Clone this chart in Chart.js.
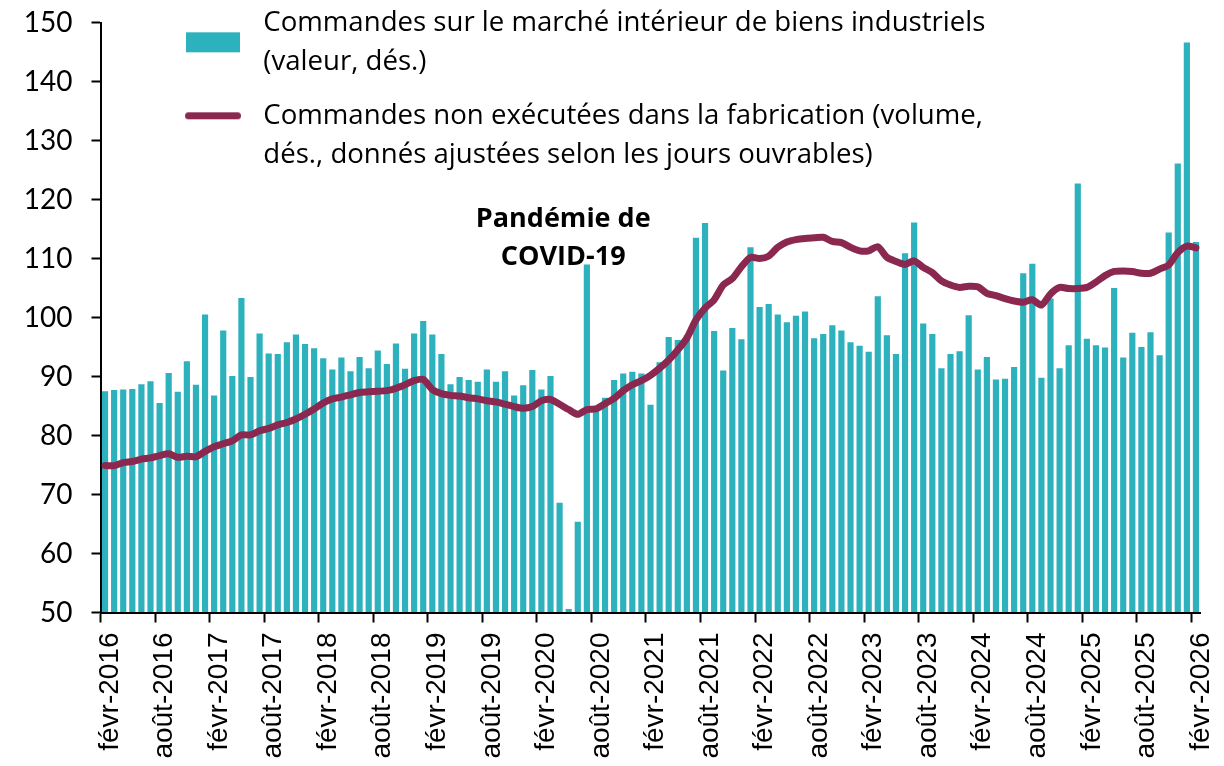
<!DOCTYPE html>
<html>
<head>
<meta charset="utf-8">
<script src="https://cdn.jsdelivr.net/npm/chart.js@4.4.1/dist/chart.umd.min.js"></script>
<style>
  html, body { margin: 0; padding: 0; background: #ffffff; }
  #wrap { width: 1224px; height: 766px; position: relative; }
</style>
</head>
<body>
<div id="wrap"><canvas id="c"></canvas></div>
<script>
// ---- categories ----
const MONTHS = ['janv', 'févr', 'mars', 'avr', 'mai', 'juin', 'juil', 'août', 'sept', 'oct', 'nov', 'déc'];
const START_MONTH = 1;      // févr
const START_YEAR = 2016;
const N_MONTHS = 121;       // févr-2016 .. févr-2026
const LABEL_EVERY = 6;

const CATEGORIES = [];
for (let i = 0; i < N_MONTHS; i++) {
  const m = (START_MONTH + i) % 12;
  const yr = START_YEAR + Math.floor((START_MONTH + i) / 12);
  CATEGORIES.push(MONTHS[m] + '-' + yr);
}

// ---- series ----
const DOMESTIC_ORDERS = [
  87.5, 87.7, 87.8, 87.9, 88.7, 89.2, 85.5, 90.6, 87.4, 92.6, 88.6, 100.5,
  86.8, 97.8, 90.1, 103.3, 89.9, 97.3, 93.9, 93.8, 95.8, 97.1, 95.5, 94.8,
  93.1, 91.2, 93.2, 90.9, 93.3, 91.4, 94.4, 92.1, 95.6, 91.3, 97.3, 99.4,
  97.1, 93.8, 88.7, 89.9, 89.4, 89.1, 91.2, 89.1, 90.9, 86.8, 88.5, 91.1,
  87.8, 90.1, 68.6, 50.6, 65.4, 109.0, 84.6, 86.4, 89.4, 90.5, 90.8, 90.5,
  85.2, 92.4, 96.7, 96.2, 97.0, 113.5, 116.0, 97.7, 91.0, 98.2, 96.3, 111.9,
  101.8, 102.3, 100.5, 99.2, 100.3, 101.0, 96.5, 97.2, 98.7, 97.8, 95.8, 95.2,
  94.2, 103.6, 97.0, 93.8, 110.9, 116.1, 99.0, 97.2, 91.4, 93.8, 94.3, 100.4,
  91.2, 93.3, 89.5, 89.6, 91.6, 107.5, 109.1, 89.8, 103.2, 91.4, 95.3, 122.7,
  96.4, 95.3, 94.9, 105.0, 93.2, 97.4, 95.0, 97.5, 93.6, 114.4, 126.1, 146.6,
  112.8
];

const UNFILLED_ORDERS = [
  74.9, 74.9, 75.4, 75.6, 76.0, 76.2, 76.6, 76.9, 76.3, 76.5, 76.4, 77.3,
  78.1, 78.6, 79.1, 80.1, 80.1, 80.8, 81.2, 81.8, 82.2, 82.8, 83.6, 84.5,
  85.5, 86.2, 86.5, 86.9, 87.3, 87.4, 87.5, 87.6, 88.0, 88.6, 89.3, 89.5,
  87.8, 87.1, 86.8, 86.7, 86.4, 86.2, 85.9, 85.7, 85.3, 84.9, 84.6, 84.9,
  85.9, 86.1, 85.3, 84.4, 83.6, 84.4, 84.5, 85.4, 86.3, 87.6, 88.6, 89.3,
  90.2, 91.4, 92.8, 94.5, 96.5, 99.6, 101.6, 103.0, 105.5, 106.6, 108.6, 110.2,
  110.0, 110.4, 111.9, 112.8, 113.2, 113.4, 113.5, 113.6, 112.9, 112.7, 111.9, 111.3,
  111.3, 112.0, 110.2, 109.5, 109.0, 109.6, 108.5, 107.6, 106.2, 105.5, 105.1, 105.3,
  105.2, 104.1, 103.7, 103.2, 102.8, 102.6, 103.0, 102.1, 104.0, 105.1, 104.9, 104.9,
  105.1, 106.0, 107.1, 107.8, 107.9, 107.8, 107.5, 107.5, 108.2, 108.9, 111.0, 112.1,
  111.8
];

// ---- axis ----
const Y_MIN = 50;
const Y_MAX = 150;
const Y_STEP = 10;

// ---- texts ----
const LEGEND_BARS = ['Commandes sur le marché intérieur de biens industriels', '(valeur, dés.)'];
const LEGEND_LINE = ['Commandes non exécutées dans la fabrication (volume,', 'dés., donnés ajustées selon les jours ouvrables)'];
const NOTE_LINES = ['Pandémie de', 'COVID-19'];
const NOTE_AT = [50.4, 116.7];   // category index, value

// ---- styles ----
const TEAL = '#2cb1bd';
const MAROON = '#8b2850';

// legend swatches
function makeBarSwatch() {
  const c = document.createElement('canvas');
  c.width = 54; c.height = 81;
  const g = c.getContext('2d');
  g.fillStyle = TEAL;
  g.fillRect(0, 50, 54, 20);
  return c;
}
function makeLineSwatch() {
  const c = document.createElement('canvas');
  c.width = 56; c.height = 13;
  const g = c.getContext('2d');
  g.strokeStyle = MAROON;
  g.lineWidth = 7;
  g.lineCap = 'round';
  g.beginPath();
  g.moveTo(3.5, 6.5);
  g.lineTo(52.5, 6.5);
  g.stroke();
  return c;
}
const BAR_SWATCH = makeBarSwatch();
const LINE_SWATCH = makeLineSwatch();

const LEGEND_POS = { left: 161.5, top: -6 };

const legendPlace = {
  id: 'legendPlace',
  afterLayout(chart) {
    const lg = chart.legend;
    if (!lg) return;
    lg.left = LEGEND_POS.left;
    lg.top = LEGEND_POS.top;
    lg.right = chart.width;
    lg.bottom = chart.height;
  }
};

const covidNote = {
  id: 'covidNote',
  afterDatasetsDraw(chart) {
    const { ctx, scales: { x, y } } = chart;
    ctx.save();
    ctx.font = 'bold 27px "Open Sans"';
    ctx.fillStyle = '#000';
    ctx.textAlign = 'center';
    ctx.textBaseline = 'middle';
    const px = x.getPixelForValue(NOTE_AT[0]);
    const py = y.getPixelForValue(NOTE_AT[1]);
    NOTE_LINES.forEach((t, i) => ctx.fillText(t, px, py + i * 38));
    ctx.restore();
  }
};

function zeroPadding(s) {
  s.paddingTop = 0; s.paddingBottom = 0; s.paddingLeft = 0; s.paddingRight = 0;
}

new Chart(document.getElementById('c'), {
  type: 'bar',
  data: {
    labels: CATEGORIES,
    datasets: [
      {
        type: 'bar',
        label: LEGEND_BARS.join(' '),
        data: DOMESTIC_ORDERS,
        backgroundColor: TEAL,
        borderWidth: 0,
        base: Y_MIN,
        barPercentage: 0.68,
        categoryPercentage: 1.0,
        order: 2
      },
      {
        type: 'line',
        label: LEGEND_LINE.join(' '),
        data: UNFILLED_ORDERS,
        borderColor: MAROON,
        backgroundColor: MAROON,
        borderWidth: 7,
        pointRadius: 0,
        tension: 0.25,
        borderCapStyle: 'round',
        borderJoinStyle: 'round',
        fill: false,
        order: 1
      }
    ]
  },
  options: {
    responsive: true,
    maintainAspectRatio: false,
    animation: false,
    devicePixelRatio: 1,
    layout: { autoPadding: false, padding: { top: 22.5, right: 23.5, left: 0, bottom: 0 } },
    plugins: {
      tooltip: { enabled: false },
      legend: {
        display: true,
        position: 'chartArea',
        align: 'start',
        labels: {
          usePointStyle: true,
          pointStyleWidth: 73,
          padding: 15,
          color: '#000',
          font: { family: 'Open Sans', size: 27.6, lineHeight: '39px' },
          generateLabels: () => [
            { text: LEGEND_BARS, pointStyle: BAR_SWATCH, fontColor: '#000', fillStyle: TEAL, lineWidth: 0, hidden: false, datasetIndex: 0 },
            { text: LEGEND_LINE, pointStyle: LINE_SWATCH, fontColor: '#000', fillStyle: MAROON, lineWidth: 0, hidden: false, datasetIndex: 1 }
          ]
        }
      }
    },
    scales: {
      x: {
        type: 'category',
        offset: true,
        grid: {
          display: true,
          offset: true,
          drawOnChartArea: false,
          drawTicks: true,
          tickLength: 10,
          tickWidth: 2,
          tickColor: (ctx) => (ctx.index % LABEL_EVERY === 0 ? '#000' : 'rgba(0,0,0,0)')
        },
        border: { display: true, color: '#000', width: 2 },
        ticks: {
          autoSkip: false,
          minRotation: 90,
          maxRotation: 90,
          padding: 10,
          labelOffset: 5,
          color: '#000',
          font: { family: 'Liberation Sans', size: 28 },
          callback: (v, i) => (i % LABEL_EVERY === 0 ? CATEGORIES[i] : '')
        },
        afterFit: (s) => { s.height = 153.5; zeroPadding(s); }
      },
      y: {
        min: Y_MIN,
        max: Y_MAX,
        grid: {
          display: true,
          drawOnChartArea: false,
          drawTicks: true,
          tickLength: 9,
          tickWidth: 2,
          tickColor: '#000'
        },
        border: { display: true, color: '#000', width: 2 },
        ticks: {
          stepSize: Y_STEP,
          padding: 19,
          color: '#000',
          font: { family: 'Lato', size: 28 }
        },
        afterFit: (s) => { s.width = 100.5; zeroPadding(s); }
      }
    }
  },
  plugins: [legendPlace, covidNote]
});
</script>
</body>
</html>
